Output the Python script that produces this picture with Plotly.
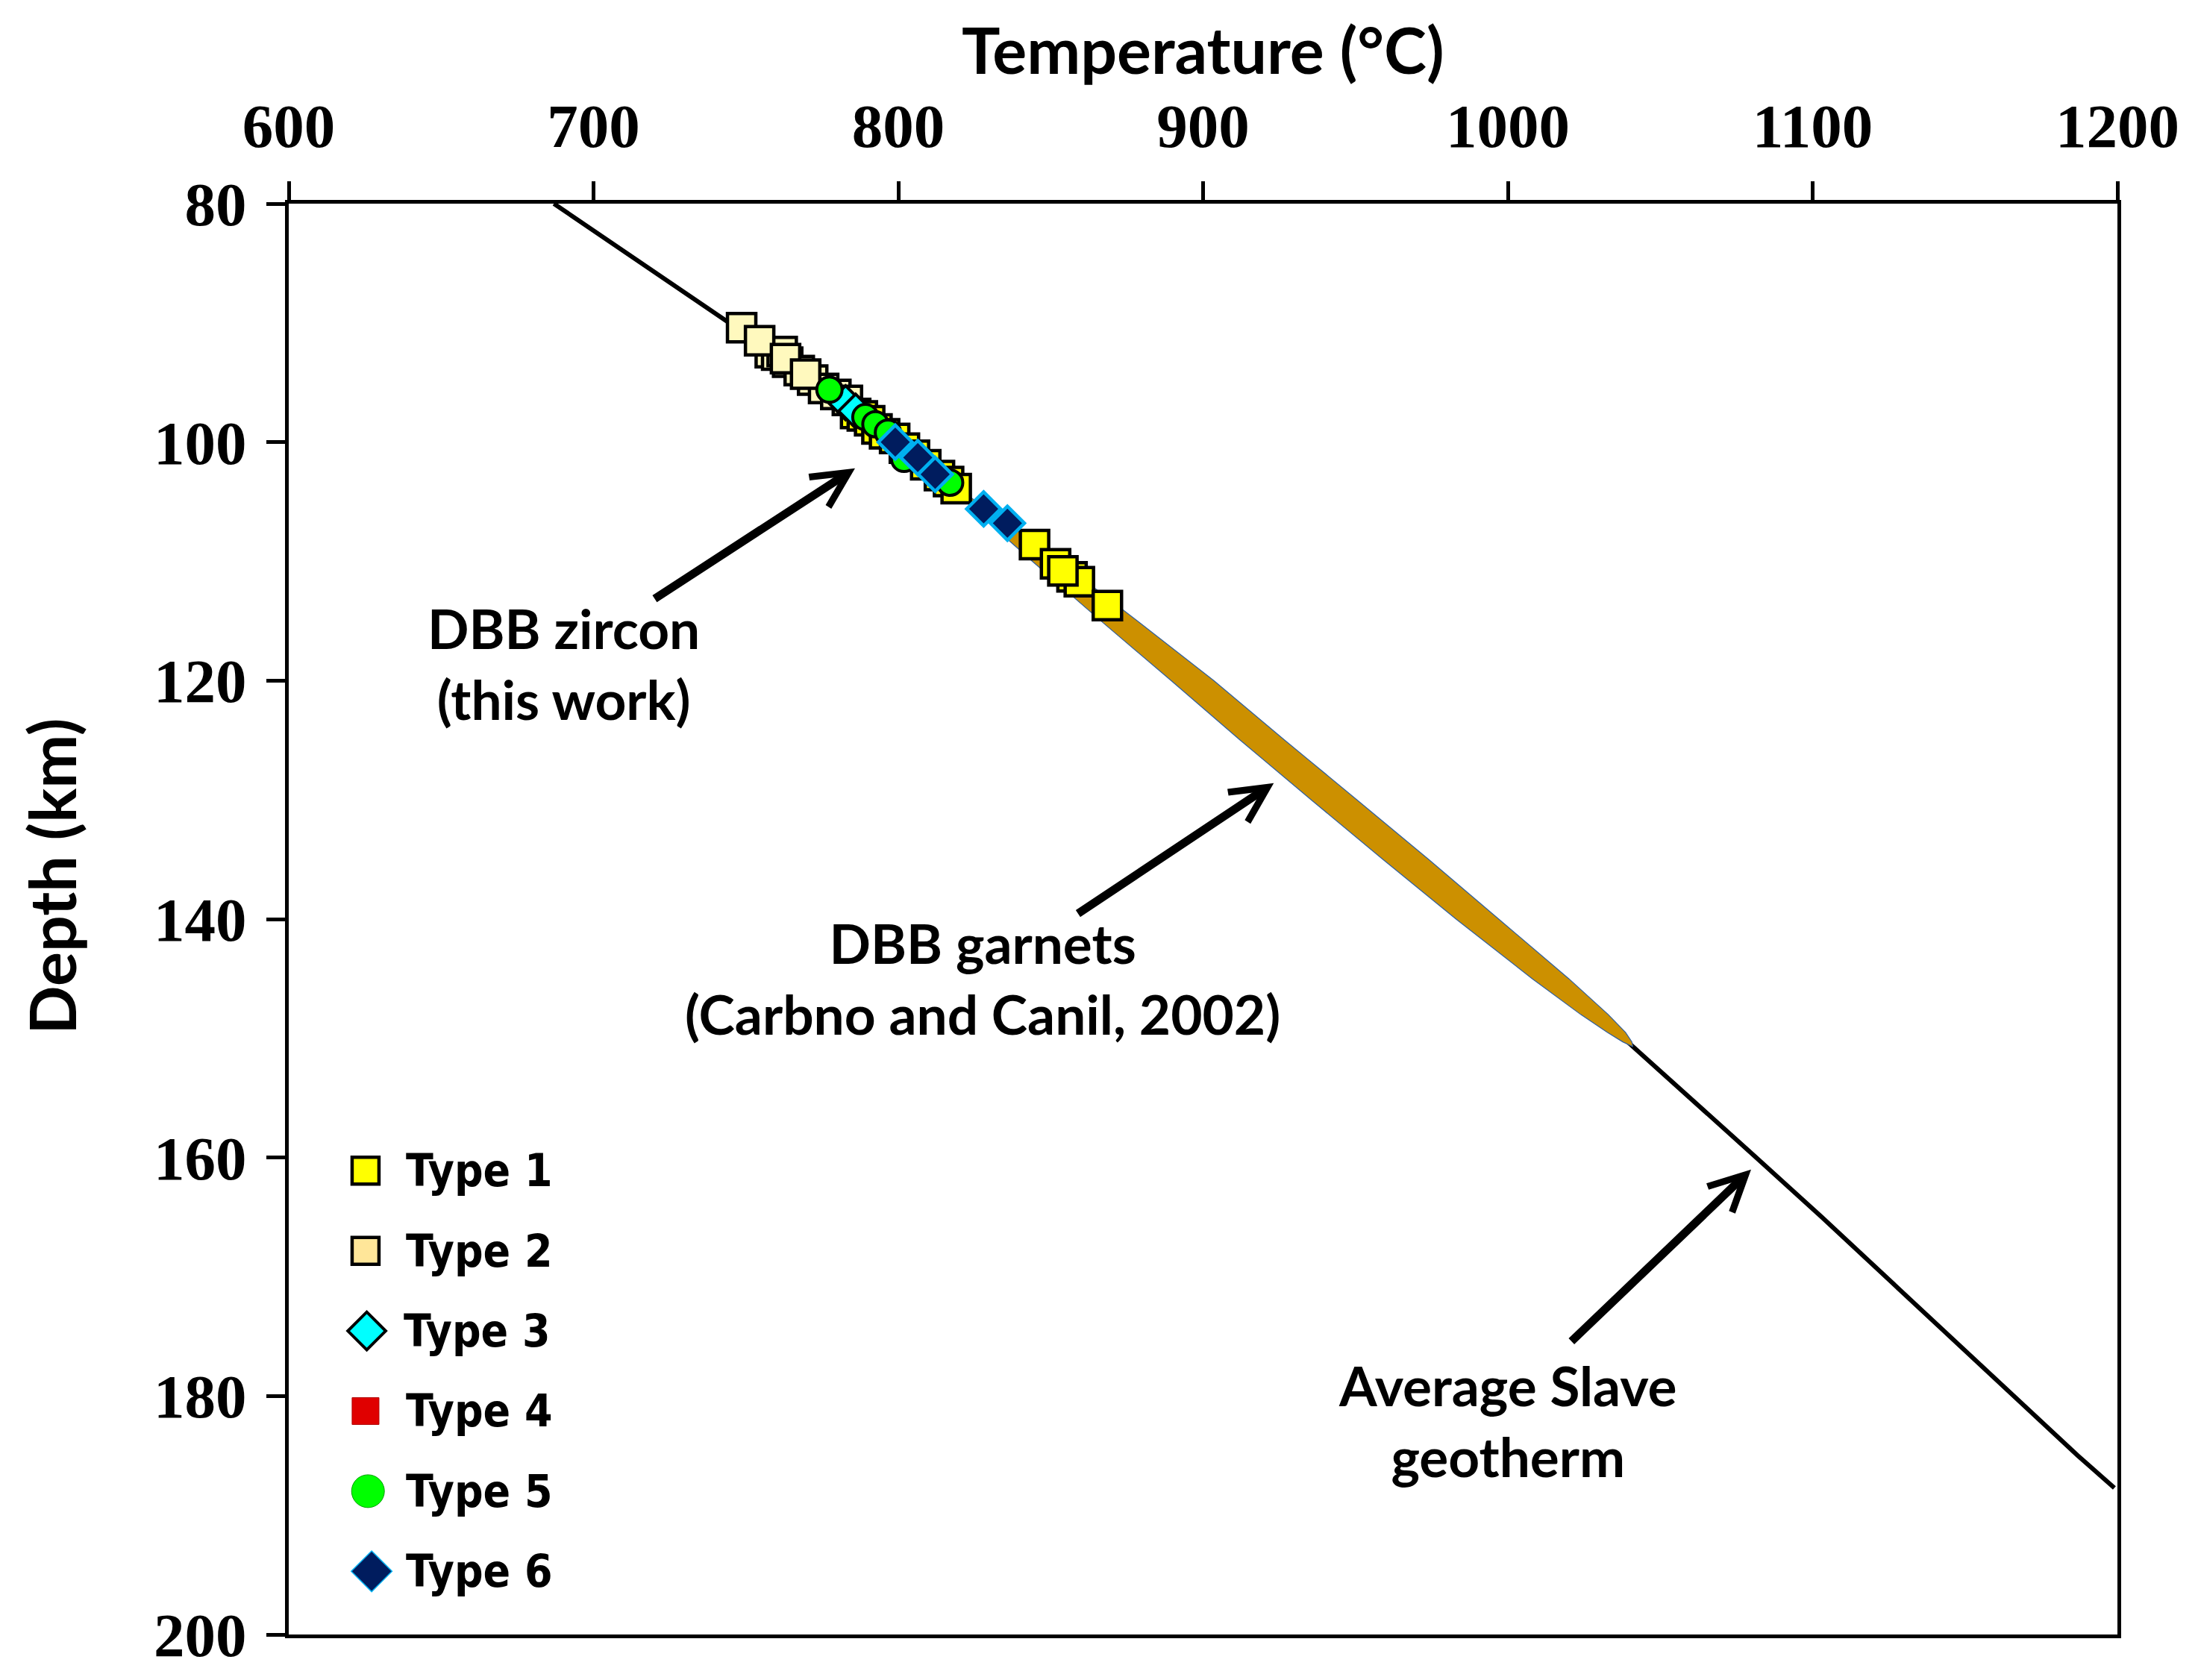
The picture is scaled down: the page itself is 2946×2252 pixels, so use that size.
import plotly.graph_objects as go

# ---------------- data ----------------
# Average Slave geotherm (depth km, temperature C)
GEO_DEPTH = [80, 85, 90, 95, 100, 105, 110, 115, 120, 125, 130, 135, 140,
             145, 150, 155, 160, 165, 170, 175, 180, 185, 187.7]
GEO_TEMP = [687, 716, 744.5, 773, 799.5, 824, 848.5, 872.5, 896.5, 919.5, 943,
            966.5, 990, 1014, 1038, 1060, 1081.5, 1103, 1124, 1145, 1166, 1187, 1199]

# DBB garnets band (Carbno and Canil, 2002): depth, left (cool) edge, right (hot) edge
BAND_DEPTH = [104, 106, 110, 115, 120, 125, 130, 135, 140, 145, 148, 149.5, 150.3, 150.7]
BAND_T_LEFT = [818.1, 826.4, 844.0, 866.5, 889.5, 912.2, 935.5, 959.0, 983.0,
               1008.0, 1023.9, 1032.6, 1037.7, 1041.0]
BAND_T_RIGHT = [820.1, 831.4, 853.0, 878.5, 903.5, 926.8, 950.5, 974.0, 997.0,
                1020.0, 1032.9, 1038.6, 1040.7, 1041.0]

# zircon samples, by type (temperature C, depth km)
T1_TEMP = [786.0, 788.2, 790.6, 793.0, 795.5, 798.8, 802.0, 805.3, 809.0, 813.5, 816.5,
           819.0, 844.7, 851.6, 857.0, 859.4, 854.0, 868.6]
T1_DEPTH = [97.6, 97.8, 98.2, 98.9, 99.3, 99.7, 100.5, 101.1, 101.9, 102.8, 103.3,
            103.9, 108.6, 110.2, 111.3, 111.7, 110.8, 113.7]

T2_TEMP = [758.0, 760.1, 763.7, 767.5, 771.9, 775.5, 779.5, 783.3,
           761.9, 748.6, 754.5, 763.0, 769.6]
T2_DEPTH = [92.5, 92.7, 93.3, 94.0, 94.8, 95.5, 96.0, 96.5,
            92.4, 90.4, 91.5, 93.0, 94.3]

T3_TEMP = [782.7, 786.0]
T3_DEPTH = [96.7, 97.4]

T4_TEMP = [771.9, 783.3, 795.5, 805.3]
T4_DEPTH = [94.8, 96.5, 99.3, 101.1]

T5_TEMP = [777.4, 789.2, 792.5, 796.6, 801.9, 817.0]
T5_DEPTH = [95.6, 97.9, 98.5, 99.2, 101.4, 103.4]

T6_TEMP = [799.0, 806.4, 812.1, 828.0, 835.8]
T6_DEPTH = [100.0, 101.3, 102.7, 105.6, 106.8]

TYPE_NAMES = ["Type 1", "Type 2", "Type 3", "Type 4", "Type 5", "Type 6"]
X_TICKS = [600, 700, 800, 900, 1000, 1100, 1200]
Y_TICKS = [80, 100, 120, 140, 160, 180, 200]

# ---------------- styling ----------------
W, H = 2938, 2244          # page body has an 8px margin
LABEL_FONT = "Lato"
TICK_FONT = "Liberation Serif"
LEGEND_FONT = "DejaVu Sans Condensed, DejaVu Sans"

fig = go.Figure()

# geotherm
fig.add_trace(go.Scatter(x=GEO_TEMP, y=GEO_DEPTH, mode="lines",
                         line=dict(color="black", width=6),
                         showlegend=False, hoverinfo="skip"))

# garnet band polygon
band_x = BAND_T_LEFT + BAND_T_RIGHT[::-1]
band_y = BAND_DEPTH + BAND_DEPTH[::-1]
fig.add_trace(go.Scatter(x=band_x, y=band_y, mode="lines", fill="toself",
                         fillcolor="#CC9000", line=dict(color="#2F5F9F", width=1.2),
                         showlegend=False, hoverinfo="skip"))

# sample markers (draw order: 4, 1, 2, 3, 5, 6)
fig.add_trace(go.Scatter(x=T4_TEMP, y=T4_DEPTH, mode="markers", name="Type 4",
                         marker=dict(symbol="square", size=30, color="#E00000",
                                     line=dict(color="#C00000", width=1)),
                         showlegend=False))
fig.add_trace(go.Scatter(x=T1_TEMP, y=T1_DEPTH, mode="markers", name="Type 1",
                         marker=dict(symbol="square", size=38, color="#FFFF00",
                                     line=dict(color="black", width=4.5)),
                         showlegend=False))
fig.add_trace(go.Scatter(x=T2_TEMP, y=T2_DEPTH, mode="markers", name="Type 2",
                         marker=dict(symbol="square", size=38, color="#FFF9BE",
                                     line=dict(color="black", width=4.5)),
                         showlegend=False))
fig.add_trace(go.Scatter(x=T3_TEMP, y=T3_DEPTH, mode="markers", name="Type 3",
                         marker=dict(symbol="diamond", size=35, color="#00FFFF",
                                     line=dict(color="black", width=4)),
                         showlegend=False))
fig.add_trace(go.Scatter(x=T5_TEMP, y=T5_DEPTH, mode="markers", name="Type 5",
                         marker=dict(symbol="circle", size=34, color="#00FF00",
                                     line=dict(color="black", width=4)),
                         showlegend=False))
fig.add_trace(go.Scatter(x=T6_TEMP, y=T6_DEPTH, mode="markers", name="Type 6",
                         marker=dict(symbol="diamond", size=35, color="#001C5E",
                                     line=dict(color="#00B0F0", width=4.5)),
                         showlegend=False))

# ---------------- custom legend (large keys) ----------------
LEG_X = 625.2          # key centre (data units)
LEG_TEXT_X = 638.0     # text left edge (data units)
LEG_Y0 = 161.1         # first row depth
LEG_DY = 6.72          # row spacing
leg_styles = [
    dict(symbol="square", size=36, color="#FFFF00", line=dict(color="black", width=4.5)),
    dict(symbol="square", size=36, color="#FFE699", line=dict(color="black", width=4.5)),
    dict(symbol="diamond", size=39, color="#00FFFF", line=dict(color="black", width=4)),
    dict(symbol="square", size=36, color="#E00000", line=dict(color="#B00000", width=1)),
    dict(symbol="circle", size=44, color="#00FF00", line=dict(color="#00A000", width=1)),
    dict(symbol="diamond", size=42, color="#001C5E", line=dict(color="#00B0F0", width=1.5)),
]
leg_dx = [0, 0, 0.4, 0, 0.8, 2.0]
for i, (nm, st) in enumerate(zip(TYPE_NAMES, leg_styles)):
    yy = LEG_Y0 + i * LEG_DY
    fig.add_trace(go.Scatter(x=[LEG_X + leg_dx[i]], y=[yy], mode="markers", marker=st,
                             showlegend=False, hoverinfo="skip"))
    fig.add_annotation(x=LEG_TEXT_X - (0.8 if i == 2 else 0), y=yy, xref="x", yref="y",
                       text="<b>%s</b>" % nm, showarrow=False, xanchor="left",
                       yanchor="middle",
                       font=dict(family=LEGEND_FONT, size=60, color="black"))

# ---------------- labels and arrows ----------------
txt_font = dict(family=LABEL_FONT, size=73, color="black")
fig.add_annotation(x=690.3, y=118.6, xref="x", yref="y",
                   text="<b>DBB zircon<br>(this work)</b>", showarrow=False,
                   font=txt_font, align="center")
fig.add_annotation(x=827.7, y=145.0, xref="x", yref="y",
                   text="<b>DBB garnets<br>(Carbno and Canil, 2002)</b>", showarrow=False,
                   font=txt_font, align="center")
fig.add_annotation(x=1000.1, y=182.05, xref="x", yref="y",
                   text="<b>Average Slave<br>geotherm</b>", showarrow=False,
                   font=txt_font, align="center")

arrows = [
    ((719.7, 113.2), (785.8, 102.2)),
    ((858.6, 139.6), (923.2, 128.6)),
    ((1020.5, 175.5), (1079.8, 161.0)),
]
for (tx, ty), (hx, hy) in arrows:
    fig.add_annotation(x=hx, y=hy, ax=tx, ay=ty, xref="x", yref="y", axref="x", ayref="y",
                       text="", showarrow=True, arrowhead=5, arrowsize=0.85,
                       arrowwidth=11, arrowcolor="black", standoff=0, startstandoff=0)

# axis titles
fig.add_annotation(x=0.5, y=1.108, xref="paper", yref="paper",
                   text="<b>Temperature (°C)</b>", showarrow=False,
                   font=dict(family=LABEL_FONT, size=86, color="black"),
                   xanchor="center", yanchor="middle")
fig.add_annotation(x=-0.130, y=0.530, xref="paper", yref="paper",
                   text="<b>Depth (km)</b>", showarrow=False, textangle=-90,
                   font=dict(family=LABEL_FONT, size=86, color="black"),
                   xanchor="center", yanchor="middle")

tickfont = dict(family=TICK_FONT, size=83, color="black", weight="bold")
fig.update_layout(
    width=W, height=H,
    margin=dict(l=379, r=108, t=265, b=61),
    paper_bgcolor="white", plot_bgcolor="white",
    showlegend=False,
    xaxis=dict(range=[600, 1200], side="top", tickvals=X_TICKS, ticks="outside",
               ticklen=25, tickwidth=5, tickcolor="black", showline=True,
               linecolor="black", linewidth=5, mirror=True, showgrid=False,
               zeroline=False, tickfont=tickfont, ticklabelstandoff=13),
    yaxis=dict(range=[200, 80], tickvals=Y_TICKS, ticks="outside",
               ticklen=25, tickwidth=5, tickcolor="black", showline=True,
               linecolor="black", linewidth=5, mirror=True, showgrid=False,
               zeroline=False, tickfont=tickfont, ticklabelstandoff=10),
)

fig.write_html("out.html")
